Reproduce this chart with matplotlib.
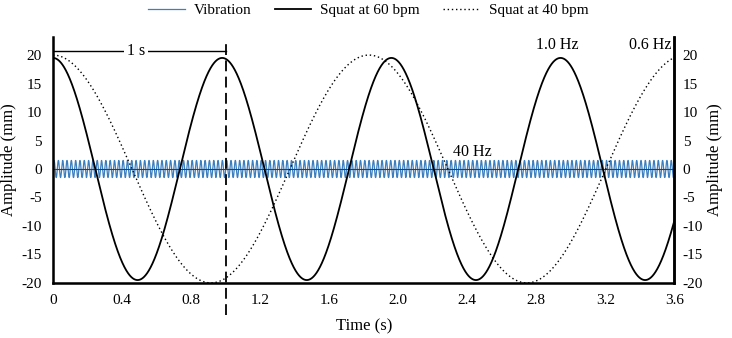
import numpy as np
import matplotlib.pyplot as plt

plt.rcParams['font.family'] = ['Liberation Serif', 'DejaVu Serif']
plt.rcParams['font.size'] = 10.5
plt.rcParams['axes.unicode_minus'] = False

# signal parameters
vib_freq = 40.0      # Hz
vib_amp = 1.5        # mm
squat60_period = 0.98  # s
squat60_amp = 19.5     # mm
squat40_period = 1.83  # s
squat40_amp = 20.0     # mm
t_end = 3.6

x_ticks = [0, 0.4, 0.8, 1.2, 1.6, 2.0, 2.4, 2.8, 3.2, 3.6]
x_tick_labels = ['0', '0.4', '0.8', '1.2', '1.6', '2.0', '2.4', '2.8', '3.2', '3.6']
y_ticks = [-20, -15, -10, -5, 0, 5, 10, 15, 20]

t = np.linspace(0, t_end, 6000)
vib = vib_amp * np.sin(2 * np.pi * vib_freq * t)
squat60 = squat60_amp * np.cos(2 * np.pi * t / squat60_period)
squat40 = squat40_amp * np.cos(2 * np.pi * t / squat40_period)

fig = plt.figure(figsize=(7.32, 3.38), dpi=100)
ax = fig.add_axes([0.0724, 0.163, 0.849, 0.728])

ax.plot(t, vib, color='#3b7fc0', lw=0.9, label='Vibration', zorder=2)
ax.axhline(0, color='#2f3d4f', lw=0.8, zorder=2.5)
ax.plot(t, squat60, color='black', lw=1.3, label='Squat at 60 bpm', zorder=3)
ax.plot(t, squat40, color='black', lw=1.0, ls=(0, (1, 2)), label='Squat at 40 bpm', zorder=3)

# 1 s marker
ax.plot([1.0, 1.0], [-25.6, 22.6], color='black', lw=1.3, ls=(0, (6, 3)), clip_on=False, zorder=4)
ax.plot([0, 1.0], [20.7, 20.7], color='black', lw=1.0, zorder=4)
ax.text(0.48, 20.7, '1 s', ha='center', va='center', fontsize=11.5, zorder=5,
        bbox=dict(facecolor='white', edgecolor='none', pad=2))

ax.text(2.92, 21.8, '1.0 Hz', ha='center', va='center', fontsize=11.5)
ax.text(3.58, 21.8, '0.6 Hz', ha='right', va='center', fontsize=11.5)
ax.text(2.43, 2.9, '40 Hz', ha='center', va='center', fontsize=11.5)

ax.set_xlim(0, t_end)
ax.set_ylim(-20, 23.2)
ax.set_xticks(x_ticks)
ax.set_xticklabels(x_tick_labels)
ax.set_yticks(y_ticks)
ax.tick_params(length=0, pad=8, labelsize=11)
ax.set_xlabel('Time (s)', fontsize=12, labelpad=8)
ax.set_ylabel('Amplitude (mm)', fontsize=12, labelpad=3)
ax.spines['top'].set_visible(False)
for s in ['left', 'bottom', 'right']:
    ax.spines[s].set_linewidth(1.8)

ax2 = ax.twinx()
ax2.set_ylim(ax.get_ylim())
ax2.set_yticks(y_ticks)
ax2.tick_params(length=0, pad=6, labelsize=11)
ax2.set_ylabel('Amplitude (mm)', fontsize=12, rotation=90, labelpad=3)
ax2.spines['top'].set_visible(False)
ax2.spines['right'].set_linewidth(1.8)

fig.legend(loc='upper center', bbox_to_anchor=(0.503, 1.03), ncol=3, frameon=False,
           handlelength=2.4, columnspacing=1.5, handletextpad=0.6, prop={'size': 11})

fig.savefig('out.png', dpi=100)
